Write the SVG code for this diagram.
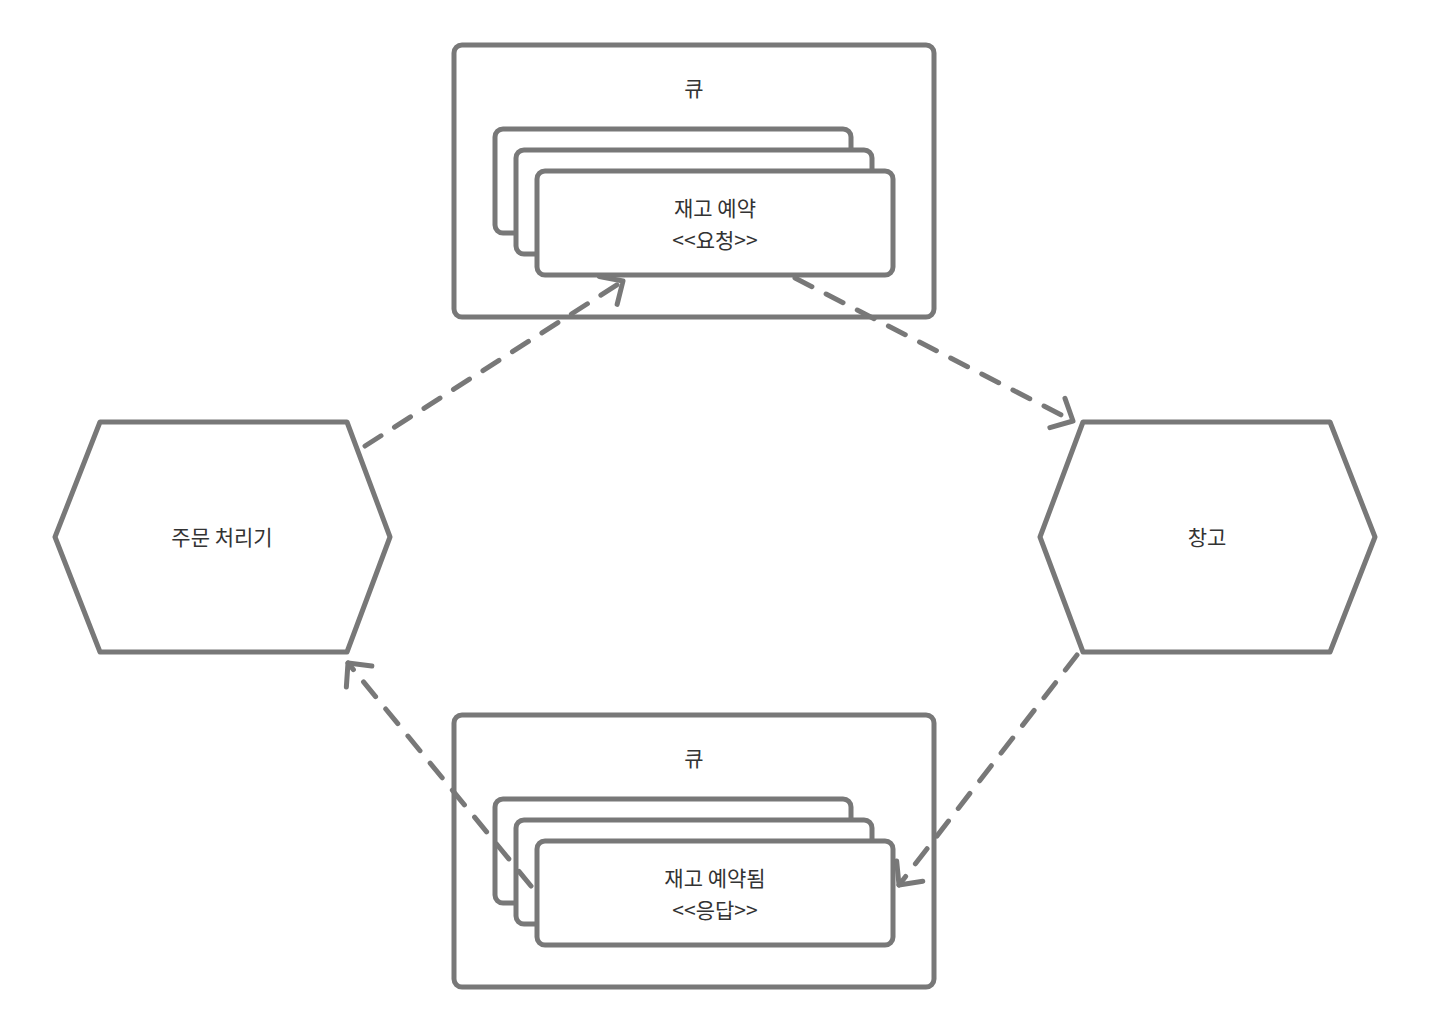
<svg xmlns="http://www.w3.org/2000/svg" width="1430" height="1030" viewBox="0 0 1430 1030">
  <style>
    .shape { fill: #ffffff; stroke: #787878; stroke-width: 5; stroke-linejoin: round; }
    .lbl { font-family: "Noto Sans CJK KR", "Noto Sans", sans-serif; font-size: 21px; fill: #333333; text-anchor: middle; dominant-baseline: central; }
    .edge { fill: none; stroke: #787878; stroke-width: 5; stroke-linecap: round; stroke-dasharray: 19 16; }
    .head { fill: none; stroke: #787878; stroke-width: 5; stroke-linecap: round; stroke-linejoin: round; stroke-dasharray: none; }
  </style>
  <defs>
    <marker id="arrow" markerUnits="userSpaceOnUse" viewBox="-30 -30 40 60" refX="0" refY="0" markerWidth="40" markerHeight="60" orient="auto" overflow="visible">
      <path class="head" d="M -17.5 -16.5 L 0 0 L -17.5 16.5"/>
    </marker>
  </defs>
  <rect width="1430" height="1030" fill="#ffffff"/>

  <g id="order-processor">
    <polygon class="shape" points="100,422 347,422 390,537 347,652 100,652 55,537"/>
    <text class="lbl" x="222" y="536">주문 처리기</text>
  </g>

  <g id="warehouse">
    <polygon class="shape" points="1083,422 1330,422 1375,537 1330,652 1083,652 1040,537"/>
    <text class="lbl" x="1207" y="536">창고</text>
  </g>

  <g id="request-queue">
    <rect class="shape" x="454" y="45" width="480" height="272" rx="8"/>
    <text class="lbl" x="694" y="87">큐</text>
    <rect class="shape" x="495" y="129" width="356" height="104" rx="8"/>
    <rect class="shape" x="516" y="150" width="356" height="104" rx="8"/>
    <g id="reserve-request">
      <rect class="shape" x="537" y="171" width="356" height="104" rx="8"/>
      <text class="lbl" x="715" y="207">재고 예약</text>
      <text class="lbl" x="715" y="239">&lt;&lt;요청&gt;&gt;</text>
    </g>
  </g>

  <g id="response-queue">
    <rect class="shape" x="454" y="715" width="480" height="272" rx="8"/>
    <text class="lbl" x="694" y="757">큐</text>
    <rect class="shape" x="495" y="799" width="356" height="104" rx="8"/>
    <rect class="shape" x="516" y="820" width="356" height="104" rx="8"/>
    <g id="reserved-response">
      <rect class="shape" x="537" y="841" width="356" height="104" rx="8"/>
      <text class="lbl" x="715" y="877">재고 예약됨</text>
      <text class="lbl" x="715" y="909">&lt;&lt;응답&gt;&gt;</text>
    </g>
  </g>

  <g id="connectors">
    <line class="edge" x1="365" y1="446" x2="623" y2="281" marker-end="url(#arrow)"/>
    <line class="edge" x1="795" y1="278" x2="1073" y2="421" marker-end="url(#arrow)"/>
    <line class="edge" x1="1077" y1="655" x2="899" y2="885" marker-end="url(#arrow)"/>
    <line class="edge" x1="531" y1="886" x2="348" y2="663" marker-end="url(#arrow)"/>
  </g>
</svg>
